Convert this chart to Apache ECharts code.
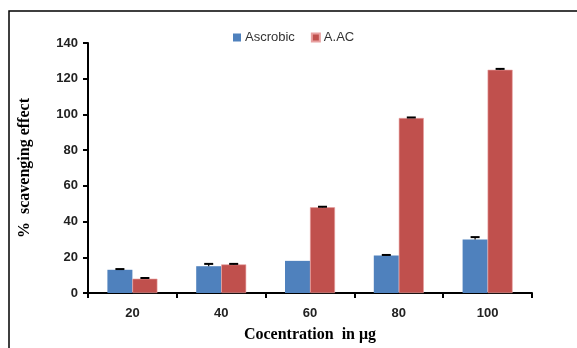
<!DOCTYPE html>
<html><head><meta charset="utf-8">
<script src="https://cdn.jsdelivr.net/npm/echarts@6/dist/echarts.min.js"></script>
<style>html,body{margin:0;padding:0;background:#fff}#c{width:577px;height:348px}</style>
</head><body><div id="c"></div>
<script>
var categories = ['20', '40', '60', '80', '100'];
var ascorbic = [13, 15, 18, 21, 30];
var ascorbicErr = [0.4, 1.3, 0, 0.3, 1.3];
var aac = [8, 16, 48, 98, 125];
var aacErr = [0.4, 0.3, 0.3, 0.3, 0.5];
var seriesNames = ['Ascrobic', 'A.AC'];
var yTicks = {min: 0, max: 140, interval: 20};

var BW = 25;
function errSeries(vals, errs, off) {
  return {
    type: 'custom', silent: true, z: 5,
    data: vals.map(function (v, i) { return [i, v, errs[i]]; }),
    renderItem: function (params, api) {
      var i = api.value(0), v = api.value(1), e = api.value(2);
      if (!e) return {type: 'group', children: []};
      var p0 = api.coord([i, v]);
      var p1 = api.coord([i, v + e]);
      var x = p0[0] + off;
      var children = [
        {type: 'line', shape: {x1: x, y1: p0[1], x2: x, y2: p1[1]}, style: {stroke: '#000', lineWidth: 1.2}},
        {type: 'line', shape: {x1: x - 4.5, y1: p1[1], x2: x + 4.5, y2: p1[1]}, style: {stroke: '#000', lineWidth: 2}}
      ];
      return {type: 'group', children: children};
    }
  };
}

var chart = echarts.init(document.getElementById('c'));
chart.setOption({
  animation: false,
  graphic: [{type: 'rect', shape: {x: 9, y: 11, width: 600, height: 360}, style: {fill: 'none', stroke: '#000', lineWidth: 1.5}}],
  legend: {
    top: 26, left: 228, itemWidth: 8, itemHeight: 8, itemGap: 16, icon: 'rect',
    textStyle: {fontFamily: 'Liberation Sans', fontSize: 13, color: '#333', padding: [0, 0, 0, -1]},
    data: seriesNames
  },
  grid: {left: 88, right: 45, top: 43, bottom: 54, containLabel: false},
  xAxis: {
    type: 'category', data: categories,
    name: 'Cocentration  in μg', nameLocation: 'middle', nameGap: 34,
    nameTextStyle: {fontFamily: 'Liberation Serif', fontWeight: 'bold', fontSize: 16, color: '#000'},
    axisLine: {lineStyle: {color: '#000', width: 2}},
    axisTick: {show: true, alignWithLabel: false, length: 5, lineStyle: {color: '#000', width: 2}},
    axisLabel: {fontFamily: 'Liberation Sans', fontWeight: 'bold', fontSize: 13, color: '#222', margin: 14}
  },
  yAxis: {
    type: 'value', min: yTicks.min, max: yTicks.max, interval: yTicks.interval,
    name: '%  scavenging effect', nameLocation: 'middle', nameGap: 55,
    nameTextStyle: {fontFamily: 'Liberation Serif', fontWeight: 'bold', fontSize: 16, color: '#000'},
    axisLine: {show: true, lineStyle: {color: '#000', width: 2}},
    axisTick: {show: true, length: 5, lineStyle: {color: '#000', width: 2}},
    splitLine: {show: false},
    axisLabel: {fontFamily: 'Liberation Sans', fontWeight: 'bold', fontSize: 13, color: '#222', margin: 10}
  },
  series: [
    {name: seriesNames[0], type: 'bar', data: ascorbic, barWidth: BW, barGap: '0%', itemStyle: {color: '#4F81BD'}},
    {name: seriesNames[1], type: 'bar', data: aac, barWidth: BW, itemStyle: {color: '#C0504D', borderColor: '#E8A0A0', borderWidth: 0.6}},
    errSeries(ascorbic, ascorbicErr, -BW / 2),
    errSeries(aac, aacErr, BW / 2)
  ]
});
</script></body></html>
